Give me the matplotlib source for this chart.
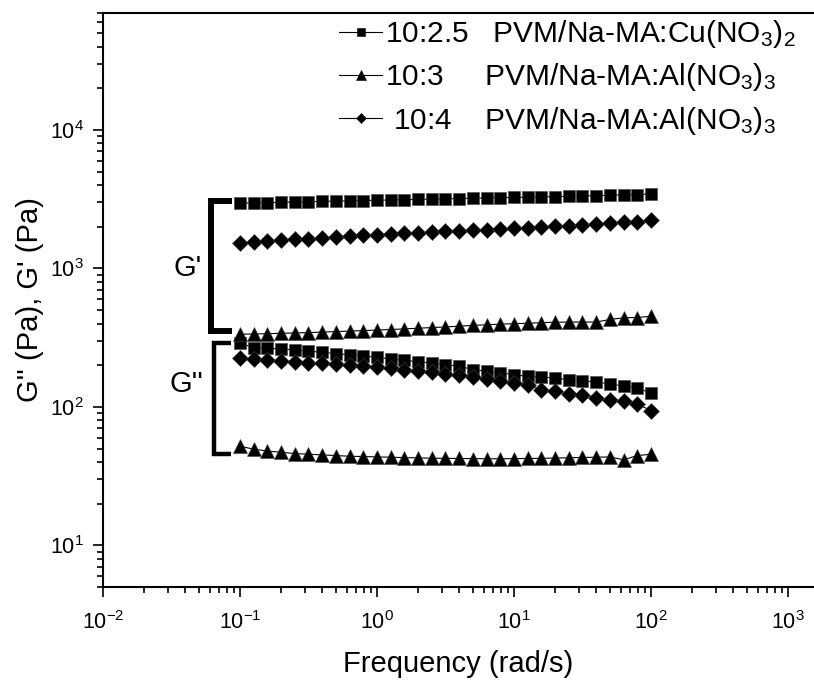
import numpy as np
import matplotlib.pyplot as plt

plt.rcParams['font.family'] = ['Liberation Sans', 'DejaVu Sans']
plt.rcParams['mathtext.fontset'] = 'custom'
plt.rcParams['mathtext.rm'] = 'Liberation Sans'
plt.rcParams['mathtext.it'] = 'Liberation Sans:italic'
plt.rcParams['mathtext.bf'] = 'Liberation Sans:bold'

# frequency sweep, 10 points per decade (rad/s)
freq = [0.1, 0.1259, 0.1585, 0.1995, 0.2512, 0.3162, 0.3981, 0.5012, 0.631, 0.7943,
        1.0, 1.259, 1.585, 1.995, 2.512, 3.162, 3.981, 5.012, 6.31, 7.943,
        10.0, 12.59, 15.85, 19.95, 25.12, 31.62, 39.81, 50.12, 63.1, 79.43, 100.0]

# storage modulus G' (Pa)
gp_cu25 = [2960, 2975, 2990, 3005, 3020, 3035, 3050, 3065, 3080, 3095,
           3110, 3125, 3140, 3155, 3170, 3185, 3200, 3215, 3230, 3245,
           3260, 3275, 3290, 3305, 3320, 3340, 3360, 3380, 3400, 3420, 3450]
gp_al3 = [335, 336, 338, 340, 342, 344, 347, 350, 353, 356,
          359, 362, 366, 370, 374, 378, 383, 388, 392, 396,
          399, 402, 406, 409, 410, 410, 410, 428, 440, 442, 452]
gp_al4 = [1520, 1550, 1580, 1600, 1620, 1640, 1660, 1690, 1710, 1730,
          1750, 1770, 1790, 1810, 1830, 1850, 1870, 1890, 1910, 1930,
          1950, 1970, 1990, 2010, 2030, 2060, 2090, 2120, 2150, 2180, 2230]

# loss modulus G'' (Pa)
gpp_cu25 = [290, 267, 265, 262, 258, 253, 248, 243, 238, 233,
            228, 222, 217, 212, 207, 202, 197, 186, 181, 176,
            171, 166, 164, 162, 157, 155, 151, 147, 141, 137, 126]
gpp_al3 = [52, 49.5, 48, 47, 46, 45.5, 45, 44.5, 44, 43.8,
           43.5, 43.3, 43.0, 42.8, 42.6, 42.5, 42.4, 42.3, 42.2, 42.2,
           42.3, 42.4, 42.5, 42.7, 42.9, 43.1, 43.3, 43.5, 41.5, 44.5, 45.5]
gpp_al4 = [226, 222, 218, 215, 212, 209, 206, 203, 200, 197,
           194, 190, 186, 182, 178, 174, 170, 164, 160, 155,
           149, 143, 133, 130, 124, 121, 116, 113, 110, 105, 94]

labels = ["10:2.5   PVM/Na-MA:Cu(NO$_3$)$_2$",
          "10:3     PVM/Na-MA:Al(NO$_3$)$_3$",
          " 10:4    PVM/Na-MA:Al(NO$_3$)$_3$"]
markers = ['s', '^', 'D']
sizes = [8.8, 10.0, 8.0]

fig = plt.figure(figsize=(8.14, 6.82), dpi=100)
ax = fig.add_axes([0.1265, 0.1393, 0.8735, 0.8416])

for gp, gpp, m, ms, lab in zip([gp_cu25, gp_al3, gp_al4],
                               [gpp_cu25, gpp_al3, gpp_al4],
                               markers, sizes, labels):
    ax.plot(freq, gp, color='k', lw=0.8, marker=m, ms=ms, mew=0.4,
            mec='#444444', label=lab)
    ax.plot(freq, gpp, color='k', lw=0.8, marker=m, ms=ms, mew=0.4,
            mec='#444444')

ax.set_xscale('log')
ax.set_yscale('log')
ax.set_xlim(0.01, 10 ** 3.19)
ax.set_ylim(5, 7e4)

ax.spines['right'].set_visible(False)
for s in ['left', 'bottom', 'top']:
    ax.spines[s].set_linewidth(1.5)
ax.tick_params(which='both', direction='out', width=1.2, labelsize=15.5,
               top=False, right=False)
ax.tick_params(which='major', length=7)
ax.tick_params(which='minor', length=4)
ax.tick_params(axis='y', pad=7)
ax.tick_params(axis='x', pad=10)

ax.set_xlabel('Frequency (rad/s)', fontsize=21, labelpad=12)
ax.set_ylabel("G'' (Pa), G' (Pa)", fontsize=21, labelpad=4)

# brackets grouping the two moduli
ax.plot([0.088, 0.0614, 0.0614, 0.088], [3070, 3070, 352, 352],
        color='k', lw=4.3, solid_joinstyle='miter', solid_capstyle='butt')
ax.plot([0.0862, 0.0641, 0.0641, 0.0862], [288, 288, 46, 46],
        color='k', lw=3.2, solid_joinstyle='miter', solid_capstyle='butt')
ax.text(0.0417, 1000, "G'", fontsize=21, ha='center', va='center')
ax.text(0.0404, 146, "G''", fontsize=21, ha='center', va='center')

leg = ax.legend(loc='upper left', bbox_to_anchor=(339 / 814, 1 - 18 / 682),
                bbox_transform=fig.transFigure, frameon=False, fontsize=21.5,
                markerscale=0.65, handlelength=1.45, handletextpad=0.1,
                borderpad=0, borderaxespad=0, labelspacing=0.38)
for h in leg.legend_handles:
    h.set_markeredgecolor('k')

fig.savefig('out.png', dpi=100)
